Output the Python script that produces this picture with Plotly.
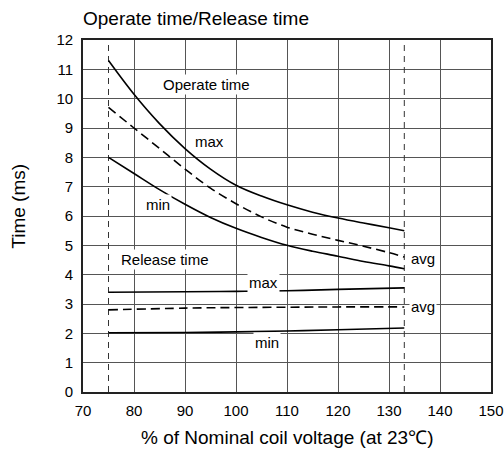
import plotly.graph_objects as go

# ---- data ----
voltage = [75, 80, 85, 90, 95, 100, 105, 110, 115, 120, 125, 130, 133]
operate_max = [11.3, 10.15, 9.15, 8.3, 7.6, 7.05, 6.68, 6.38, 6.13, 5.93, 5.76, 5.6, 5.5]
operate_avg = [9.7, 9.0, 8.3, 7.6, 6.95, 6.42, 5.97, 5.62, 5.38, 5.17, 4.97, 4.75, 4.6]
operate_min = [8.0, 7.45, 6.9, 6.4, 5.95, 5.58, 5.27, 5.0, 4.8, 4.63, 4.45, 4.3, 4.2]

rel_voltage = [75, 90, 100, 110, 120, 133]
release_max = [3.4, 3.42, 3.43, 3.45, 3.5, 3.55]
release_avg = [2.8, 2.86, 2.88, 2.89, 2.9, 2.9]
release_min = [2.02, 2.03, 2.05, 2.08, 2.12, 2.18]

limit_voltages = [75, 133]

x_range = [70, 150]
y_range = [0, 12]
x_ticks = [70, 80, 90, 100, 110, 120, 130, 140, 150]
y_ticks = list(range(0, 13))

labels = [
    ("Operate time", 94.3, 10.5, "center"),
    ("max", 94.9, 8.55, "center"),
    ("min", 84.7, 6.4, "center"),
    ("Release time", 86.0, 4.52, "center"),
    ("max", 105.3, 3.72, "center"),
    ("min", 106.0, 1.68, "center"),
    ("avg", 134.0, 4.55, "left"),
    ("avg", 134.0, 2.92, "left"),
]

FONT = "Arial, Liberation Sans, Helvetica, sans-serif"

fig = go.Figure()

for xv in limit_voltages:
    fig.add_trace(go.Scatter(x=[xv, xv], y=y_range, mode="lines",
                             line=dict(color="#333", width=1, dash="6px,5px"),
                             hoverinfo="skip", showlegend=False))

def curve(x, y, dash=None):
    fig.add_trace(go.Scatter(x=x, y=y, mode="lines",
                             line=dict(color="black", width=1.6, shape="spline",
                                       smoothing=1.0, dash=dash),
                             showlegend=False))

curve(voltage, operate_max)
curve(voltage, operate_avg, "9px,5px")
curve(voltage, operate_min)
curve(rel_voltage, release_max)
curve(rel_voltage, release_avg, "9px,5px")
curve(rel_voltage, release_min)

for text, x, y, anchor in labels:
    fig.add_annotation(x=x, y=y, text=text, showarrow=False, xanchor=anchor,
                       yanchor="middle", bgcolor="white", borderpad=1,
                       font=dict(size=15, color="black", family=FONT))

# axis titles
fig.add_annotation(xref="paper", yref="paper", x=0.5, y=-0.129,
                   text="% of Nominal coil voltage (at 23℃)", showarrow=False,
                   xanchor="center", yanchor="middle",
                   font=dict(size=19, color="black", family=FONT))
fig.add_annotation(xref="paper", yref="paper", x=-0.158, y=0.528,
                   text="Time (ms)", showarrow=False, textangle=-90,
                   xanchor="center", yanchor="middle",
                   font=dict(size=19, color="black", family=FONT))

fig.update_layout(
    width=504, height=450,
    margin=dict(l=83, r=13, t=40, b=58, autoexpand=False),
    paper_bgcolor="white", plot_bgcolor="white",
    font=dict(family=FONT, color="black", size=15),
    title=dict(text="Operate time/Release time", x=0, xref="paper",
               xanchor="left", y=0.96, yanchor="middle",
               font=dict(size=19, family=FONT, color="black")),
)
axis_style = dict(showgrid=True, gridcolor="#555555", gridwidth=1.2,
                  showline=True, linecolor="#222", linewidth=1.6, mirror=True,
                  zeroline=False, tickfont=dict(size=15), automargin=False,
                  ticks="outside", tickcolor="white")
fig.update_xaxes(range=x_range, tickvals=x_ticks, ticktext=[str(v) for v in x_ticks],
                 ticklen=4, **axis_style)
fig.update_yaxes(range=y_range, tickvals=y_ticks, ticktext=[str(v) for v in y_ticks],
                 ticklen=5, **axis_style)

fig.write_html("out.html", config={"displayModeBar": False},
               post_script="document.body.style.margin='0px';")
